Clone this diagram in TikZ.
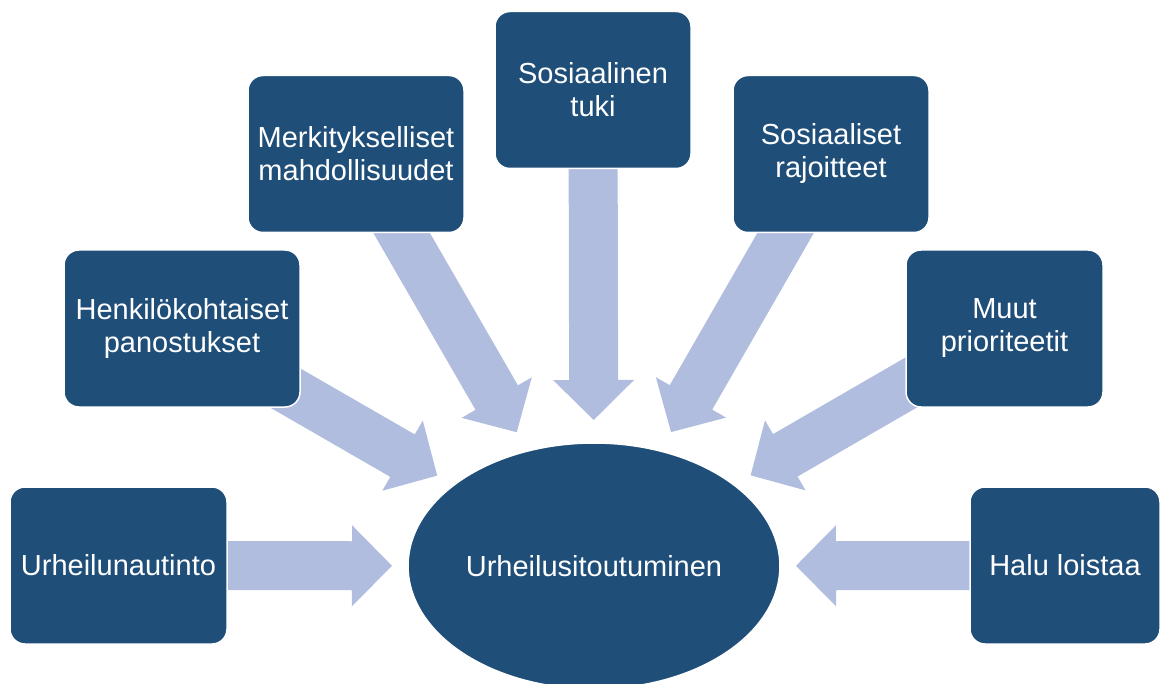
\documentclass[tikz,border=0pt]{standalone}
\usepackage{fontspec}
\setmainfont{Liberation Sans}
\usetikzlibrary{calc,backgrounds,shapes.geometric}

\definecolor{boxblue}{RGB}{31,78,121}
\definecolor{arrowblue}{RGB}{176,189,222}

% broad arrow from the centre of #1 towards #2, tip #3 away from the centre of #2
\newcommand\fatarrow[3]{%
  \coordinate (tip) at ($(#2)!#3!(#1)$);
  \coordinate (base) at ($(tip)!40pt!(#1)$);
  \fill[arrowblue] ($(#1)!24.5pt!90:(tip)$) -- ($(base)!24.5pt!90:(tip)$)
    -- ($(base)!40.5pt!90:(tip)$) -- (tip) -- ($(base)!40.5pt!-90:(tip)$)
    -- ($(base)!24.5pt!-90:(tip)$) -- ($(#1)!24.5pt!-90:(tip)$) -- cycle;
}

\begin{document}
\begin{tikzpicture}[
  x=1pt, y=-1pt,
  block/.style={rectangle, rounded corners=15pt, fill=boxblue, draw=white, line width=1.5pt,
    minimum height=157pt, inner sep=4pt, text=white, align=center,
    font=\fontsize{29}{33}\selectfont},
  core/.style={ellipse, fill=boxblue, draw=white, line width=1.5pt, minimum width=370pt,
    minimum height=246pt, text=white, font=\fontsize{29}{33}\selectfont}
]
\useasboundingbox (0,0) rectangle (1161,684);

\node[core] (sitout) at (594,566) {Urheilusitoutuminen};

\node[block, minimum width=217pt] (nautinto) at (118.5,565.5) {Urheilunautinto};
\node[block, minimum width=236pt] (panos) at (182,328.5) {Henkilökohtaiset\\panostukset};
\node[block, minimum width=216pt] (mahd) at (356,154) {Merkitykselliset\\mahdollisuudet};
\node[block, minimum width=196pt] (tuki) at (593,90) {Sosiaalinen\\tuki};
\node[block, minimum width=196pt] (rajo) at (831,154) {Sosiaaliset\\rajoitteet};
\node[block, minimum width=197pt] (prio) at (1004.5,328.5) {Muut\\prioriteetit};
\node[block, minimum width=190pt] (loistaa) at (1065,565.5) {Halu loistaa};

\begin{pgfonlayer}{background}
\fatarrow{nautinto}{sitout}{202pt}
\fatarrow{panos}{sitout}{181pt}
\fatarrow{mahd}{sitout}{154.5pt}
\fatarrow{tuki}{sitout}{146pt}
\fatarrow{rajo}{sitout}{154.5pt}
\fatarrow{prio}{sitout}{181pt}
\fatarrow{loistaa}{sitout}{202pt}
\end{pgfonlayer}
\end{tikzpicture}
\end{document}
